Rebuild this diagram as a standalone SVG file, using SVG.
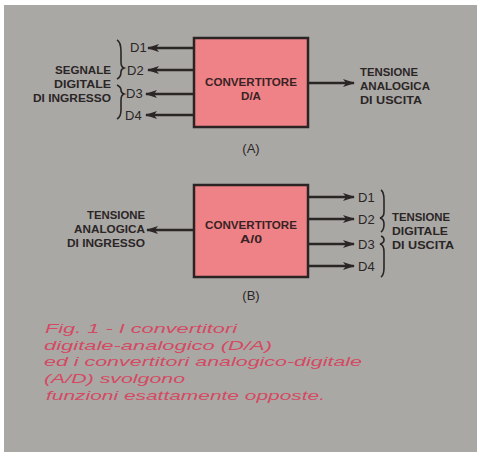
<svg xmlns="http://www.w3.org/2000/svg" width="477" height="454" viewBox="0 0 477 454">
<defs>
<marker id="ah" viewBox="0 0 12 8" refX="11" refY="4" markerWidth="12" markerHeight="8" markerUnits="userSpaceOnUse" orient="auto">
<path d="M0,0 L12,4 L0,8 L3,4 Z" fill="#2a2626"/>
</marker>
<style>
.bg{fill:#aaa8a5}
.box{fill:#ee8287;stroke:#2b2424;stroke-width:2.5}
.lbl{font-family:"Liberation Sans",Arial,sans-serif;font-weight:bold;font-size:11.5px;fill:#2a2626}
.box-t{font-family:"Liberation Sans",Arial,sans-serif;font-weight:bold;font-size:11.5px;fill:#3a2224}
.d{font-family:"Liberation Sans",Arial,sans-serif;font-size:13px;fill:#2a2626}
.conn{stroke:#2a2626;stroke-width:2.5;fill:none}
.brace{stroke:#2a2626;stroke-width:1.6;fill:none}
.cap{font-family:"Liberation Sans",Arial,sans-serif;font-style:italic;font-size:13.5px;fill:#d44a62}
</style>
</defs>
<rect x="0" y="0" width="477" height="454" fill="#ffffff"/>
<rect class="bg" x="4" y="5" width="473" height="447"/>

<g id="nodeA">
<rect class="box" x="194" y="38" width="114" height="89"/>
<text class="box-t" x="251" y="86" text-anchor="middle" textLength="92" lengthAdjust="spacingAndGlyphs">CONVERTITORE</text>
<text class="box-t" x="251" y="100" text-anchor="middle" textLength="20" lengthAdjust="spacingAndGlyphs">D/A</text>
</g>
<g id="labelA">
<text class="d" x="251" y="153" text-anchor="middle">(A)</text>
</g>
<g id="inA">
<text class="lbl" x="111" y="74" text-anchor="end" textLength="56" lengthAdjust="spacingAndGlyphs">SEGNALE</text>
<text class="lbl" x="111" y="88" text-anchor="end" textLength="57" lengthAdjust="spacingAndGlyphs">DIGITALE</text>
<text class="lbl" x="111" y="102" text-anchor="end" textLength="78" lengthAdjust="spacingAndGlyphs">DI INGRESSO</text>
<text class="d" x="130" y="52">D1</text>
<text class="d" x="127" y="75">D2</text>
<text class="d" x="126" y="98">D3</text>
<text class="d" x="125" y="120">D4</text>
</g>
<g id="outA">
<text class="lbl" x="360" y="76" textLength="58" lengthAdjust="spacingAndGlyphs">TENSIONE</text>
<text class="lbl" x="360" y="90" textLength="70" lengthAdjust="spacingAndGlyphs">ANALOGICA</text>
<text class="lbl" x="360" y="104" textLength="62" lengthAdjust="spacingAndGlyphs">DI USCITA</text>
</g>

<g id="nodeB">
<rect class="box" x="194" y="185" width="114" height="92"/>
<text class="box-t" x="251" y="229" text-anchor="middle" textLength="92" lengthAdjust="spacingAndGlyphs">CONVERTITORE</text>
<text class="box-t" x="251" y="243" text-anchor="middle" textLength="22" lengthAdjust="spacingAndGlyphs">A/0</text>
</g>
<g id="labelB">
<text class="d" x="251" y="300" text-anchor="middle">(B)</text>
</g>
<g id="inB">
<text class="lbl" x="145" y="219" text-anchor="end" textLength="58" lengthAdjust="spacingAndGlyphs">TENSIONE</text>
<text class="lbl" x="145" y="233" text-anchor="end" textLength="71" lengthAdjust="spacingAndGlyphs">ANALOGICA</text>
<text class="lbl" x="145" y="247" text-anchor="end" textLength="78" lengthAdjust="spacingAndGlyphs">DI INGRESSO</text>
</g>
<g id="outB">
<text class="d" x="358" y="202">D1</text>
<text class="d" x="358" y="224">D2</text>
<text class="d" x="358" y="249">D3</text>
<text class="d" x="358" y="271">D4</text>
<text class="lbl" x="392" y="221" textLength="58" lengthAdjust="spacingAndGlyphs">TENSIONE</text>
<text class="lbl" x="392" y="235" textLength="56" lengthAdjust="spacingAndGlyphs">DIGITALE</text>
<text class="lbl" x="392" y="249" textLength="62" lengthAdjust="spacingAndGlyphs">DI USCITA</text>
</g>

<g id="connectors">
<line class="conn" x1="194" y1="48" x2="148" y2="48" marker-end="url(#ah)"/>
<line class="conn" x1="194" y1="70" x2="148" y2="70" marker-end="url(#ah)"/>
<line class="conn" x1="194" y1="94" x2="146" y2="94" marker-end="url(#ah)"/>
<line class="conn" x1="194" y1="115" x2="146" y2="115" marker-end="url(#ah)"/>
<line class="conn" x1="308" y1="83" x2="354" y2="83" marker-end="url(#ah)"/>
<line class="conn" x1="194" y1="230" x2="147" y2="230" marker-end="url(#ah)"/>
<line class="conn" x1="308" y1="197" x2="354" y2="197" marker-end="url(#ah)"/>
<line class="conn" x1="308" y1="219" x2="354" y2="219" marker-end="url(#ah)"/>
<line class="conn" x1="308" y1="244" x2="354" y2="244" marker-end="url(#ah)"/>
<line class="conn" x1="308" y1="266" x2="354" y2="266" marker-end="url(#ah)"/>
</g>

<g id="braces">
<path class="brace" d="M117,40 Q121,42 121,52 L121,62 Q121,67 124,68 Q121,69 121,72 Q121,77 117,79"/>
<path class="brace" d="M117,85 Q121,87 121,90 Q121,93 124,94 Q121,95 121,100 L121,110 Q121,117 117,119"/>
<path class="brace" d="M381,190 Q384,192 384,200 L384,212 Q384,217 380,218 Q384,219 384,224 Q384,230 381,232"/>
<path class="brace" d="M381,236 Q384,237 384,240 Q384,243 380,244 Q384,245 384,252 L384,268 Q384,275 381,277"/>
</g>

<g id="caption">
<text class="cap" x="45" y="333" textLength="192" lengthAdjust="spacingAndGlyphs">Fig. 1 - I convertitori</text>
<text class="cap" x="44" y="350" textLength="228" lengthAdjust="spacingAndGlyphs">digitale-analogico (D/A)</text>
<text class="cap" x="44" y="366" textLength="318" lengthAdjust="spacingAndGlyphs">ed i convertitori analogico-digitale</text>
<text class="cap" x="44" y="383" textLength="141" lengthAdjust="spacingAndGlyphs">(A/D) svolgono</text>
<text class="cap" x="46" y="400" textLength="279" lengthAdjust="spacingAndGlyphs">funzioni esattamente opposte.</text>
</g>
</svg>
